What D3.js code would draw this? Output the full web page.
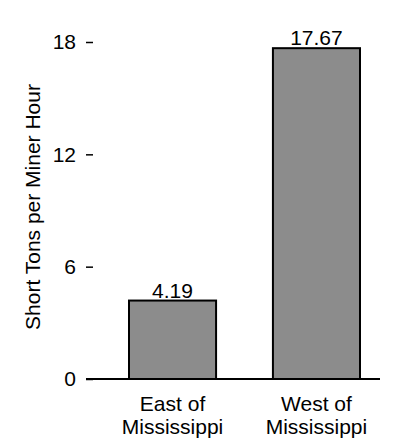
<!DOCTYPE html>
<html>
<head>
<meta charset="utf-8">
<script src="https://cdn.jsdelivr.net/npm/d3@7"></script>
<style>
  html, body { margin: 0; padding: 0; background: #fff; }
  svg { display: block; font-family: Arial, "Liberation Sans", sans-serif; }
</style>
</head>
<body>
<script>
const categories = [["East of", "Mississippi"], ["West of", "Mississippi"]];
const values = [4.19, 17.67];
const valueLabels = ["4.19", "17.67"];
const yTicks = [0, 6, 12, 18];
const yLabel = "Short Tons per Miner Hour";

const W = 396, H = 443;
const FS = 21;
const svg = d3.select("body").append("svg").attr("width", W).attr("height", H);

const y = d3.scaleLinear().domain([0, 18]).range([379, 42]);
const x = d3.scaleBand().domain(d3.range(values.length)).range([129, 360])
  .paddingInner(0.395).paddingOuter(0);

// bars
svg.selectAll("rect.bar").data(values).join("rect")
  .attr("class", "bar")
  .attr("x", (d, i) => x(i))
  .attr("y", d => y(d))
  .attr("width", x.bandwidth())
  .attr("height", d => y(0) - y(d))
  .attr("fill", "#8c8c8c")
  .attr("stroke", "#000")
  .attr("stroke-width", 2);

// y axis ticks (no axis line)
const yAxis = d3.axisLeft(y).tickValues(yTicks).tickSize(7).tickPadding(10).tickFormat(d3.format("d"));
const gy = svg.append("g").attr("transform", "translate(93,0)").call(yAxis);
gy.select(".domain").remove();
gy.selectAll(".tick line").attr("stroke", "#000").attr("stroke-width", 1.5);
gy.selectAll(".tick text").attr("font-size", FS).attr("fill", "#000")
  .attr("font-family", "Arial, 'Liberation Sans', sans-serif");

// baseline
svg.append("line")
  .attr("x1", 86).attr("x2", 380)
  .attr("y1", y(0)).attr("y2", y(0))
  .attr("stroke", "#000").attr("stroke-width", 2);

// value labels
svg.selectAll("text.val").data(values).join("text")
  .attr("class", "val")
  .attr("x", (d, i) => x(i) + x.bandwidth() / 2)
  .attr("y", d => y(d) - 3)
  .attr("text-anchor", "middle")
  .attr("font-size", FS)
  .text((d, i) => valueLabels[i]);

// category labels
const cat = svg.selectAll("text.cat").data(categories).join("text")
  .attr("class", "cat")
  .attr("text-anchor", "middle")
  .attr("font-size", FS);
cat.selectAll("tspan").data((d, i) => d.map(t => ({ t, i }))).join("tspan")
  .attr("x", d => x(d.i) + x.bandwidth() / 2)
  .attr("y", (d, j) => 411 + j * 23)
  .text(d => d.t);

// y label
svg.append("text")
  .attr("transform", "translate(40,207) rotate(-90)")
  .attr("text-anchor", "middle")
  .attr("font-size", FS)
  .text(yLabel);
</script>
</body>
</html>
